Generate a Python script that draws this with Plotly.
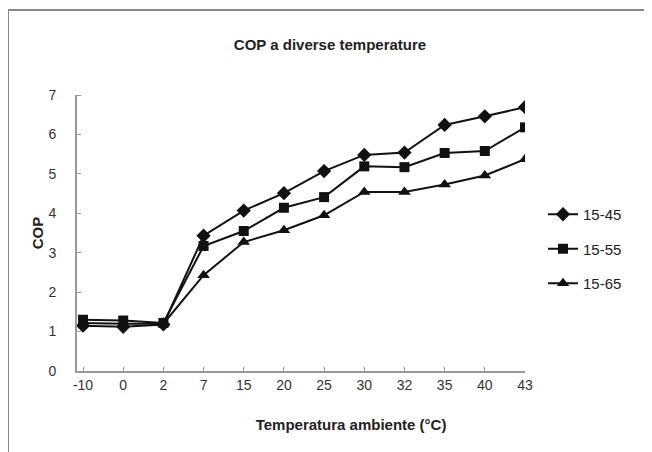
import plotly.graph_objects as go

categories = ["-10", "0", "2", "7", "15", "20", "25", "30", "32", "35", "40", "43"]
s45 = [1.15, 1.12, 1.18, 3.43, 4.07, 4.51, 5.07, 5.48, 5.54, 6.24, 6.46, 6.69]
s55 = [1.30, 1.28, 1.22, 3.17, 3.55, 4.14, 4.41, 5.19, 5.17, 5.53, 5.58, 6.18]
s65 = [1.22, 1.20, 1.20, 2.43, 3.27, 3.57, 3.95, 4.54, 4.54, 4.73, 4.96, 5.37]
series_names = ["15-45", "15-55", "15-65"]
y_ticks = [0, 1, 2, 3, 4, 5, 6, 7]

FONT = "Liberation Sans, Arial, sans-serif"
OFF = 8  # page body margin
GHOST = '<span style="color:rgba(0,0,0,0)">{}</span>'

fig = go.Figure()
for name, vals, sym, sz in zip(series_names, [s45, s55, s65],
                               ["diamond", "square", "triangle-up"], [11, 10, 11]):
    fig.add_trace(go.Scatter(
        x=categories, y=vals, name=name, mode="lines+markers",
        legendgroup=name,
        line=dict(color="#111111", width=2),
        marker=dict(symbol=sym, size=sz, color="#111111"),
    ))

W_FIG, H_FIG = 652, 452
L, T = 77 - OFF, 95 - OFF
W_PLOT, H_PLOT = 448, 276
fig.update_layout(
    width=W_FIG, height=H_FIG,
    margin=dict(l=L, r=W_FIG - L - W_PLOT, t=T, b=H_FIG - T - H_PLOT, autoexpand=False),
    paper_bgcolor="white", plot_bgcolor="white",
    font=dict(family=FONT, color="#222222", size=14),
    title=dict(text="<b>COP a diverse temperature</b>", x=(330 - OFF) / W_FIG,
               xref="container", xanchor="center",
               y=1 - (45 - OFF) / H_FIG, yref="container", yanchor="middle",
               automargin=False,
               font=dict(size=15, family=FONT, color="#222222")),
    showlegend=True,
    legend=dict(x=1 + 18 / W_PLOT, xanchor="left", y=1 - 154 / H_PLOT, yanchor="middle",
                font=dict(size=15, family=FONT, color="#222222"),
                tracegroupgap=12, itemwidth=30, bgcolor="rgba(0,0,0,0)"),
    xaxis=dict(type="category", range=[-0.15, 11.0], showgrid=False,
               showline=True, linecolor="#999999", linewidth=2, mirror=False,
               ticks="inside", ticklen=4, tickcolor="#999999",
               tickfont=dict(size=14, color="#333333"),
               title=dict(text=GHOST.format("000000000000") + "<b>Temperatura ambiente (°C)</b>",
                          standoff=28,
                          font=dict(size=15, color="#222222"))),
    yaxis=dict(range=[0, 7], tickvals=y_ticks, showgrid=False, zeroline=False,
               showline=True, linecolor="#999999", linewidth=2,
               ticks="outside", ticklen=16, tickcolor="rgba(0,0,0,0)",
               minor=dict(tickvals=y_ticks, ticks="inside", ticklen=4,
                          tickcolor="#999999", showgrid=False),
               tickfont=dict(size=14, color="#333333"),
               title=dict(text="<b>COP</b>", standoff=1,
                          font=dict(size=15, color="#222222"))),
    shapes=[
        dict(type="line", xref="paper", yref="paper",
             x0=-(77 - 8) / W_PLOT, x1=1.5, y0=1 + (95 - 10) / H_PLOT, y1=1 + (95 - 10) / H_PLOT,
             line=dict(color="#888888", width=2)),
        dict(type="line", xref="paper", yref="paper",
             x0=-(77 - 8) / W_PLOT, x1=-(77 - 8) / W_PLOT, y0=-0.4, y1=1 + (95 - 10) / H_PLOT,
             line=dict(color="#888888", width=2)),
    ],
)

fig.write_html("out.html")
